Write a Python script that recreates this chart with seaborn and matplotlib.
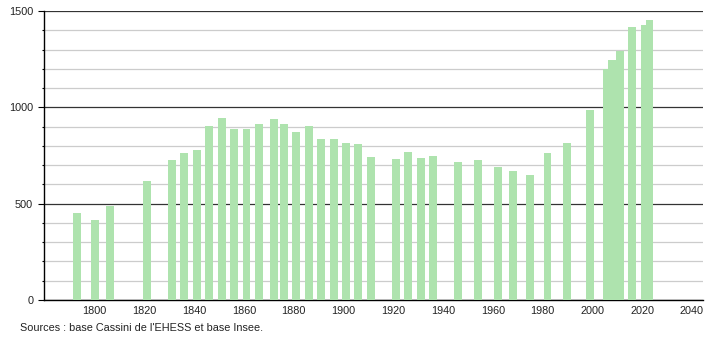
import matplotlib
matplotlib.use("Agg")
import matplotlib.pyplot as plt
import seaborn as sns
import pandas as pd
from matplotlib.ticker import MultipleLocator, FixedLocator

years = [1793, 1800, 1806, 1821, 1831, 1836, 1841, 1846, 1851, 1856,
         1861, 1866, 1872, 1876, 1881, 1886, 1891, 1896, 1901, 1906,
         1911, 1921, 1926, 1931, 1936, 1946, 1954, 1962, 1968, 1975,
         1982, 1990, 1999, 2006, 2008, 2011, 2016, 2021, 2023]
population = [449, 415, 487, 617, 726, 764, 778, 902, 943, 890,
              890, 916, 938, 912, 873, 902, 834, 834, 816, 812,
              743, 731, 769, 738, 747, 716, 729, 691, 669, 648,
              764, 816, 985, 1201, 1245, 1291, 1417, 1426, 1452]
x_ticks = [1800, 1820, 1840, 1860, 1880, 1900, 1920, 1940, 1960, 1980, 2000, 2020, 2040]
y_ticks = [0, 500, 1000, 1500]
source_text = "Sources : base Cassini de l'EHESS et base Insee."

df = pd.DataFrame({"year": years, "pop": population})

sns.set_theme(style="white")
plt.rcParams["font.family"] = ["Liberation Sans", "DejaVu Sans"]

fig = plt.figure(figsize=(7.1, 3.4), dpi=100)
ax = fig.add_axes([44 / 710, 1 - 300 / 340, (703 - 44) / 710, (300 - 11) / 340])

sns.barplot(data=df, x="year", y="pop", native_scale=True, width=1.6,
            color="#aee3ae", saturation=1, ax=ax, zorder=3,
            edgecolor="none", linewidth=0)

ax.set_xlim(1779.6, 2044.5)
ax.set_ylim(0, 1500)
ax.set_xlabel("")
ax.set_ylabel("")

ax.set_xticks(x_ticks)
ax.set_xticklabels([str(t) for t in x_ticks])
ax.yaxis.set_major_locator(FixedLocator(y_ticks))
ax.yaxis.set_minor_locator(MultipleLocator(100))

ax.grid(False)
ax.grid(axis="y", which="minor", color="#cccccc", linewidth=0.9, zorder=1)
ax.grid(axis="y", which="major", color="#333333", linewidth=0.9, zorder=1)
ax.set_axisbelow(True)

for s in ["top", "right"]:
    ax.spines[s].set_visible(False)
for s in ["left", "bottom"]:
    ax.spines[s].set_color("black")
    ax.spines[s].set_linewidth(1.0)

ax.tick_params(axis="x", which="both", length=0, pad=4, labelsize=7.8, colors="#222222")
ax.tick_params(axis="y", which="major", length=4.3, width=0.8, color="black",
               pad=3.5, labelsize=7.8, labelcolor="#222222", left=True)
ax.tick_params(axis="y", which="minor", length=1.6, width=0.8, color="black", left=True)

fig.text(20 / 710, 1 - 328 / 340, source_text, fontsize=7.8, color="#222222",
         ha="left", va="center")

fig.savefig("out.png", dpi=100)
